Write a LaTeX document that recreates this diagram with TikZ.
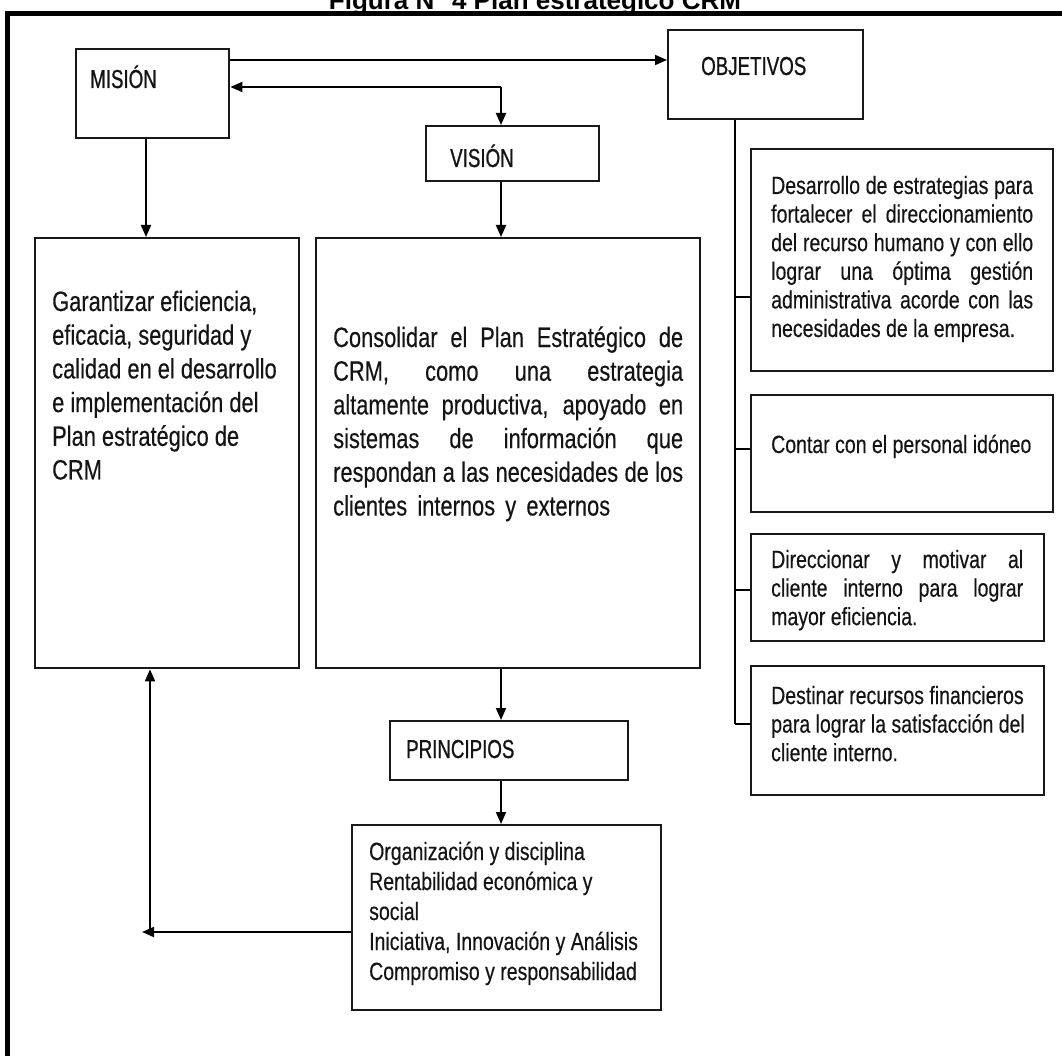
\documentclass[tikz,border=0pt]{standalone}
\usepackage{fontspec}
\setmainfont{Liberation Sans}
\newfontfamily\bodyf[FakeStretch=0.78,FakeBold=0.3]{Liberation Sans}
\newfontfamily\lblf[FakeStretch=0.72,FakeBold=0.8]{Liberation Sans}
\usetikzlibrary{arrows.meta}
\newcommand{\jl}[2]{\makebox[#1][s]{#2}}
\begin{document}
\begin{tikzpicture}[x=1pt,y=-1pt,
  box/.style={draw=black!90, line width=2.4pt, rectangle, inner sep=0pt, anchor=north west},
  con/.style={draw=black, line width=1.8pt},
  arr/.style={con, -{Triangle[length=12pt,width=10pt]}},
  lbl/.style={inner sep=0pt, anchor=base west, text=black!92, font=\lblf\fontsize{26}{26}\selectfont},
  bigtxt/.style={inner sep=0pt, anchor=base west, text=black!92, font=\bodyf\fontsize{28}{33.7}\selectfont},
  smalltxt/.style={inner sep=0pt, anchor=base west, text=black!92, font=\bodyf\fontsize{25}{28.6}\selectfont},
  ptxt/.style={inner sep=0pt, anchor=base west, text=black!92, font=\bodyf\fontsize{25}{30}\selectfont}
]
\useasboundingbox (0,0) rectangle (1062,1056);
\clip (0,0) rectangle (1062,1056);
\fill[white] (0,0) rectangle (1062,1056);

% title and frame
\node[inner sep=0pt, anchor=base, font=\bfseries\fontsize{26}{26}\selectfont] (title) at (535,9.5) {Figura N° 4 Plan estratégico CRM};
\draw[line width=5pt] (7.5,1080) -- (7.5,13.5) -- (1080,13.5);

% boxes
\node[box, minimum width=153pt, minimum height=89pt] (mision) at (75,48) {};
\node[box, minimum width=195pt, minimum height=89pt] (objetivos) at (667,29) {};
\node[box, minimum width=173pt, minimum height=55pt] (vision) at (425,125) {};
\node[box, minimum width=264pt, minimum height=430pt] (mtext) at (34,237) {};
\node[box, minimum width=384pt, minimum height=430pt] (vtext) at (315,237) {};
\node[box, minimum width=238pt, minimum height=59pt] (principios) at (389,720) {};
\node[box, minimum width=309pt, minimum height=185pt] (ptext) at (351,824) {};
\node[box, minimum width=302pt, minimum height=222pt] (o1) at (750,148) {};
\node[box, minimum width=302pt, minimum height=117pt] (o2) at (750,394) {};
\node[box, minimum width=293pt, minimum height=107pt] (o3) at (750,533) {};
\node[box, minimum width=293pt, minimum height=129pt] (o4) at (750,665) {};

% labels
\node[lbl] (misionlbl) at (90,88) {MISIÓN};
\node[lbl] (objetivoslbl) at (701,75) {OBJETIVOS};
\node[lbl] (visionlbl) at (450,167) {VISIÓN};
\node[lbl] (principioslbl) at (406,758) {PRINCIPIOS};

% texts
\node[bigtxt] (mtxt) at (52,311) {\parbox[t]{240pt}{\raggedright Garantizar eficiencia,\\ eficacia, seguridad y\\ calidad en el desarrollo\\ e implementación del\\ Plan estratégico de\\ CRM}};
\node[bigtxt] (vtxt) at (333,347) {\parbox[t]{360pt}{\jl{350pt}{Consolidar el Plan Estratégico de}\\ \jl{350pt}{CRM, como una estrategia}\\ \jl{350pt}{altamente productiva, apoyado en}\\ \jl{350pt}{sistemas de información que}\\ \jl{350pt}{respondan a las necesidades de los}\\ \jl{277pt}{clientes internos y externos}}};
\node[ptxt] (ptxtx) at (369,860) {\parbox[t]{290pt}{\raggedright Organización y disciplina\\ Rentabilidad económica y\\ social\\ Iniciativa, Innovación y Análisis\\ Compromiso y responsabilidad}};
\node[smalltxt] (o1txt) at (771,194) {\parbox[t]{272pt}{\jl{262pt}{Desarrollo de estrategias para}\\ \jl{262pt}{fortalecer el direccionamiento}\\ \jl{262pt}{del recurso humano y con ello}\\ \jl{262pt}{lograr una óptima gestión}\\ \jl{262pt}{administrativa acorde con las}\\ necesidades de la empresa.}};
\node[smalltxt] (o2txt) at (771,453) {Contar con el personal idóneo};
\node[smalltxt] (o3txt) at (771,568) {\parbox[t]{262pt}{\jl{252pt}{Direccionar y motivar al}\\ \jl{252pt}{cliente interno para lograr}\\ mayor eficiencia.}};
\node[smalltxt] (o4txt) at (771,704) {\parbox[t]{262pt}{\raggedright Destinar recursos financieros\\ para lograr la satisfacción del\\ cliente interno.}};

% connectors
\coordinate (y60) at (0,60);
\coordinate (j) at (501,87);
\coordinate (mx) at (146,0);
\coordinate (cx) at (501,0);
\coordinate (corner) at (150,932);
\coordinate (tipl) at (142,932);
\coordinate (t1) at (735,297);
\coordinate (t2) at (735,449);
\coordinate (t3) at (735,590);
\coordinate (t4) at (735,724);

\draw[arr] (mision.east |- y60) -- (objetivos.west |- y60);
\draw[arr] (j) -- (mision.east |- j);
\draw[arr] (j) -- (j |- vision.north);
\draw[arr] (mision.south -| mx) -- (mtext.north -| mx);
\draw[arr] (vision.south -| cx) -- (vtext.north -| cx);
\draw[arr] (vtext.south -| cx) -- (principios.north -| cx);
\draw[arr] (principios.south -| cx) -- (ptext.north -| cx);
\draw[arr] (ptext.west |- corner) -- (tipl);
\draw[arr] (corner) -- (mtext.south -| corner);

\draw[con] (objetivos.south -| t1) -- (t4);
\draw[con] (t1) -- (o1.west |- t1);
\draw[con] (t2) -- (o2.west |- t2);
\draw[con] (t3) -- (o3.west |- t3);
\draw[con] (t4) -- (o4.west |- t4);
\end{tikzpicture}
\end{document}
